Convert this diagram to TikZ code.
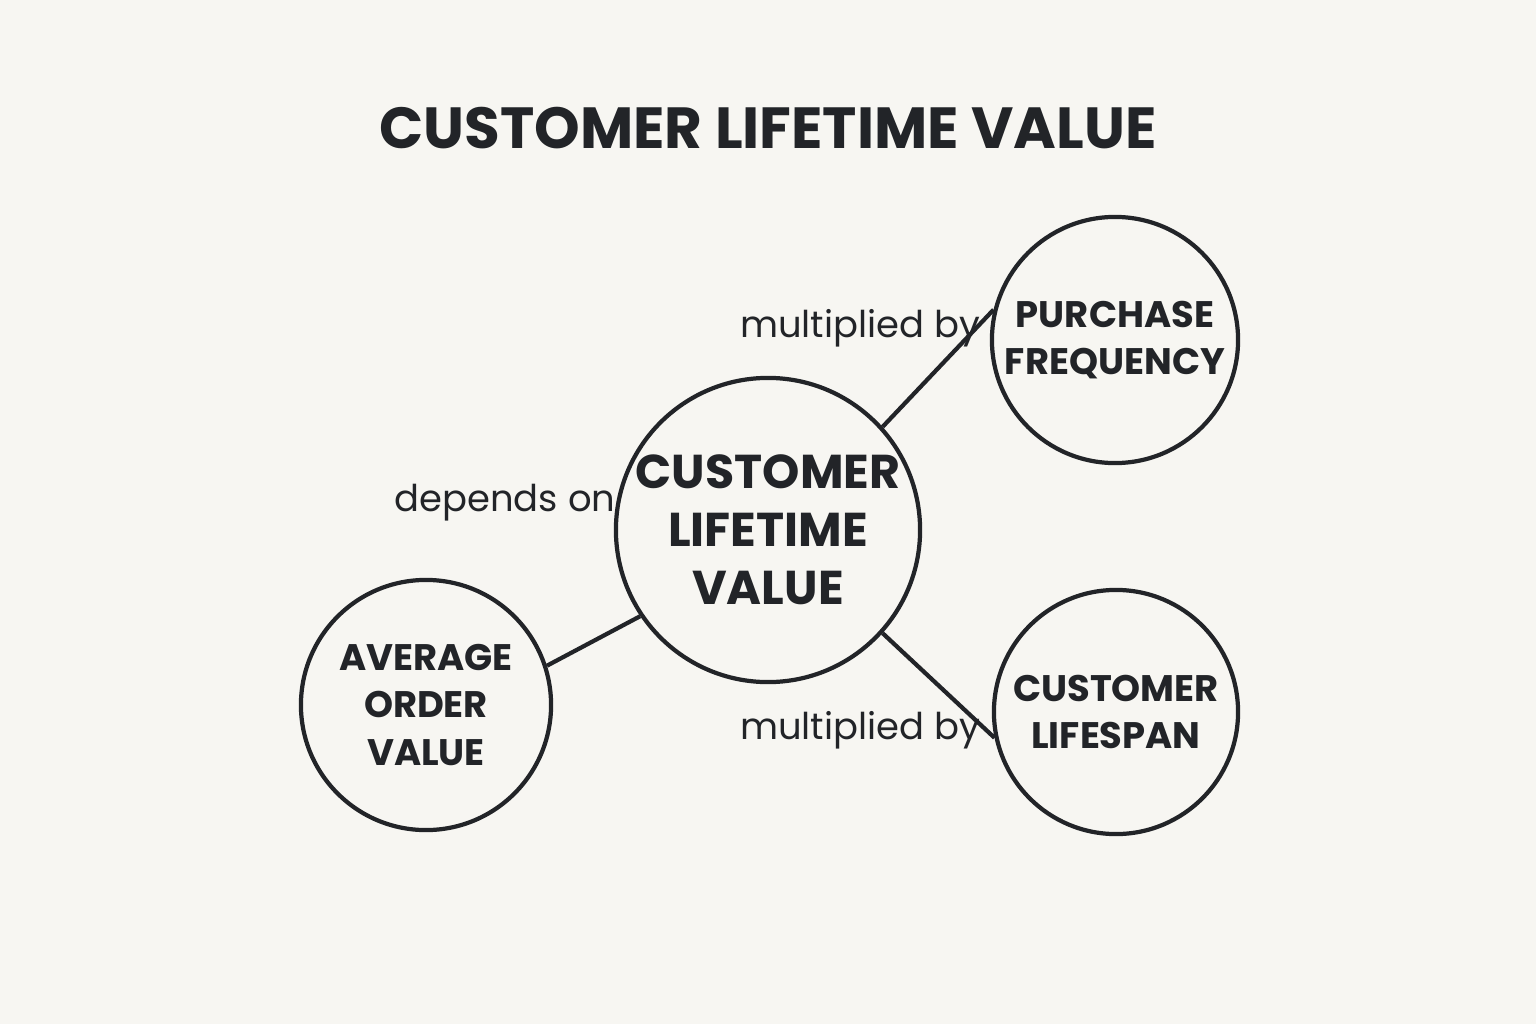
\documentclass[tikz,border=0pt]{standalone}
\usepackage{fontspec}
\setmainfont{Poppins}
\usepackage{tikz}
\usetikzlibrary{positioning}
\definecolor{paperbg}{HTML}{F7F6F2}
\definecolor{inkdark}{HTML}{222428}

\tikzset{
    bubble/.style={circle, draw=inkdark, line width=1.2pt, text=inkdark, align=center, inner sep=0pt},
    bubbletext/.style={font=\bfseries\fontsize{10.5}{13.5}\selectfont},
    linklabel/.style={text=inkdark, font=\fontsize{10.5}{12}\selectfont},
    link/.style={draw=inkdark, line width=1.2pt}
}

\begin{document}
\begin{tikzpicture}[x=0.01cm, y=-0.01cm]
    % Background
    \fill[paperbg] (0,0) rectangle (1536,1024);
    \useasboundingbox (0,0) rectangle (1536,1024);

    % Title
    \node[text=inkdark, font=\bfseries\fontsize{16.5}{20}\selectfont] (title) at (768,128) {CUSTOMER LIFETIME VALUE};

    % Circles
    \node[bubble, minimum size=304\pgflinewidth, minimum size=3.04cm, font=\bfseries\fontsize{13.5}{16.5}\selectfont] (clv) at (768,530) {CUSTOMER\\LIFETIME\\VALUE};
    \node[bubble, bubbletext, minimum size=2.46cm] (pf) at (1115,340) {PURCHASE\\FREQUENCY};
    \node[bubble, bubbletext, minimum size=2.44cm] (cl) at (1116,712) {CUSTOMER\\LIFESPAN};
    \node[bubble, bubbletext, minimum size=2.5cm] (aov) at (426,705) {AVERAGE\\ORDER\\VALUE};

    % Connectors
    \draw[link] (clv.42) -- (pf.166);
    \draw[link] (clv.-42) -- (cl.192);
    \draw[link] (clv.214) -- (aov.18);

    % Labels
    \node[linklabel] (lpf) at (860,328) {multiplied by};
    \node[linklabel] (lcl) at (860,730) {multiplied by};
    \node[linklabel] (laov) at (505,503) {depends on};
\end{tikzpicture}
\end{document}
